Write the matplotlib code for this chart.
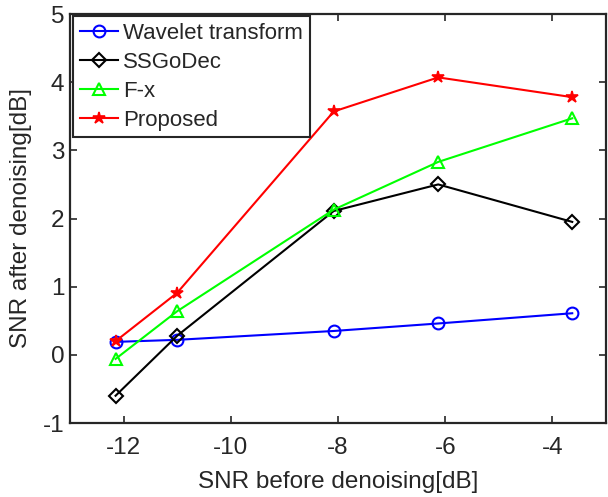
import matplotlib
matplotlib.use("Agg")
import matplotlib.pyplot as plt

snr_before = [-12.15, -11.0, -8.08, -6.13, -3.63]
wavelet = [0.19, 0.22, 0.35, 0.46, 0.61]
ssgodec = [-0.60, 0.28, 2.11, 2.50, 1.95]
fx = [-0.06, 0.64, 2.13, 2.83, 3.47]
proposed = [0.20, 0.91, 3.57, 4.07, 3.78]
labels = ["Wavelet transform", "SSGoDec", "F-x", "Proposed"]
xticks = [-12, -10, -8, -6, -4]
yticks = [-1, 0, 1, 2, 3, 4, 5]

plt.rcParams['font.family'] = ['Liberation Sans', 'DejaVu Sans']
txt = '#262626'

fig = plt.figure(figsize=(6.08, 4.97), dpi=100)
ax = fig.add_axes([70/608, 74/497, 536/608, 409/497])

lw = 1.5
ms = 8.5
ax.plot(snr_before, wavelet, color='#0000ff', marker='o', mfc='none', mec='#0000ff', mew=1.5, lw=lw, ms=ms, label=labels[0])
ax.plot(snr_before, ssgodec, color='black', marker='D', mfc='none', mec='black', mew=1.5, lw=lw, ms=7, label=labels[1])
ax.plot(snr_before, fx, color='#00ff00', marker='^', mfc='none', mec='#00ff00', mew=1.5, lw=lw, ms=ms, label=labels[2])
ax.plot(snr_before, proposed, color='#ff0000', marker='*', mfc='#ff0000', mec='#ff0000', mew=1.2, lw=lw, ms=9, label=labels[3])

ax.set_xlim(-13, -3)
ax.set_ylim(-1, 5)
ax.set_xticks(xticks)
ax.set_yticks(yticks)
ax.set_xticklabels([str(v) for v in xticks])
ax.set_yticklabels([str(v) for v in yticks])
ax.tick_params(direction='in', length=5, width=1.2, top=True, right=True,
               labelsize=17.5, colors=txt)
ax.tick_params(axis='x', pad=10)
ax.tick_params(axis='y', pad=4)
for s in ax.spines.values():
    s.set_linewidth(1.6)
    s.set_color(txt)

ax.set_xlabel("SNR before denoising[dB]", fontsize=17.5, color=txt, labelpad=9)
ax.set_ylabel("SNR after denoising[dB]", fontsize=17.5, color=txt, labelpad=8)

leg = ax.legend(loc='upper left', bbox_to_anchor=(0.006, 0.995), borderaxespad=0,
                fontsize=16, fancybox=False, framealpha=1, edgecolor='#262626',
                handlelength=1.7, handletextpad=0.25, labelspacing=0.36,
                borderpad=0.3)
leg.get_frame().set_linewidth(1.5)
for t in leg.get_texts():
    t.set_color(txt)

fig.savefig("out.png", dpi=100)
